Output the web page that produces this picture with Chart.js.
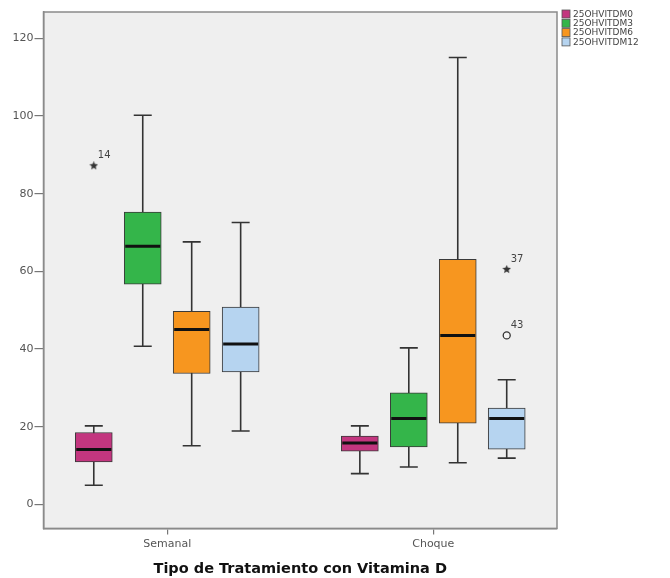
<!DOCTYPE html>
<html>
<head>
<meta charset="utf-8">
<script src="https://cdn.jsdelivr.net/npm/chart.js@4.4.1/dist/chart.umd.min.js"></script>
<style>
    body { margin: 0; background: #ffffff; }
    #wrap { width: 670px; height: 578px; }
</style>
</head>
<body>
<div id="wrap"><canvas id="boxChart" width="670" height="578"></canvas></div>
<script>
// ===== DATA =====
const groups = ['Semanal', 'Choque'];
const seriesNames = ['25OHVITDM0', '25OHVITDM3', '25OHVITDM6', '25OHVITDM12'];
const seriesColors = ['#c3367f', '#34b54a', '#f7961f', '#b6d4f0'];

// one row per series, one value per group (Semanal, Choque)
const whiskerLow  = [[4.9, 7.9],   [40.7, 9.6],  [15.1, 10.7],  [18.9, 11.9]];
const q1          = [[10.9, 13.7], [56.7, 14.8], [33.7, 20.9],  [34.1, 14.2]];
const median      = [[14.1, 15.8], [66.5, 22.1], [45.0, 43.5],  [41.3, 22.1]];
const q3          = [[18.5, 17.6], [75.3, 28.7], [49.7, 63.1],  [50.8, 24.8]];
const whiskerHigh = [[20.2, 20.2], [100.2, 40.3], [67.6, 115.1], [72.6, 32.1]];

// outliers
const outlierGroup  = [0, 1, 1];
const outlierSeries = [0, 3, 3];
const outlierValue  = [87.2, 60.5, 43.5];
const outlierCase   = ['14', '37', '43'];
const outlierExtreme = [true, true, false];   // star = extreme, circle = outlier

const yTicks = [0, 20, 40, 60, 80, 100, 120];

// ===== LAYOUT CONSTANTS =====
const seriesOffset = [-0.276, -0.092, 0.092, 0.276];
const BOX_WIDTH = 37;
const CAP_WIDTH = 18;

function xPos(groupIdx, seriesIdx) {
    return groupIdx + 1 + seriesOffset[seriesIdx];
}

// small filled star used for extreme values
function makeStar(size) {
    const c = document.createElement('canvas');
    c.width = size; c.height = size;
    const g = c.getContext('2d');
    const cx = size / 2, cy = size / 2, ro = size / 2, ri = ro * 0.45;
    g.beginPath();
    for (let i = 0; i < 10; i++) {
        const r = i % 2 === 0 ? ro : ri;
        const a = -Math.PI / 2 + i * Math.PI / 5;
        g.lineTo(cx + r * Math.cos(a), cy + r * Math.sin(a));
    }
    g.closePath();
    g.fillStyle = '#333333';
    g.fill();
    return c;
}
const starImg = makeStar(9);

// ===== DATASETS =====
const boxDatasets = seriesNames.map((name, si) => ({
    type: 'bar',
    label: name,
    data: groups.map((g, gi) => ({ x: xPos(gi, si), y: [q1[si][gi], q3[si][gi]] })),
    backgroundColor: seriesColors[si],
    borderColor: '#3a3a3a',
    borderWidth: 1,
    borderSkipped: false,
    barThickness: BOX_WIDTH,
    grouped: false,
    order: 2
}));

const outlierDataset = {
    type: 'scatter',
    label: 'outliers',
    data: outlierValue.map((v, i) => ({ x: xPos(outlierGroup[i], outlierSeries[i]), y: v })),
    pointStyle: outlierExtreme.map(e => e ? starImg : 'circle'),
    pointRadius: 3.5,
    pointBorderWidth: 1.3,
    pointBorderColor: '#333333',
    pointBackgroundColor: '#f4f4f4',
    order: 1
};

// ===== PLUGINS =====
const plotFrame = {
    id: 'plotFrame',
    beforeDraw(chart) {
        const { ctx, chartArea: a } = chart;
        ctx.save();
        ctx.fillStyle = '#efefef';
        ctx.fillRect(a.left, a.top, a.right - a.left, a.bottom - a.top);
        ctx.restore();
    },
    afterDraw(chart) {
        const { ctx, chartArea: a } = chart;
        ctx.save();
        ctx.strokeStyle = '#8a8a8a';
        ctx.lineWidth = 1.5;
        ctx.strokeRect(a.left, a.top, a.right - a.left, a.bottom - a.top);
        ctx.restore();
    }
};

const whiskers = {
    id: 'whiskers',
    beforeDatasetsDraw(chart) {
        const { ctx, scales: { x, y } } = chart;
        ctx.save();
        ctx.strokeStyle = '#333333';
        ctx.lineWidth = 1.6;
        seriesNames.forEach((name, si) => {
            groups.forEach((g, gi) => {
                const px = x.getPixelForValue(xPos(gi, si));
                const lo = y.getPixelForValue(whiskerLow[si][gi]);
                const hi = y.getPixelForValue(whiskerHigh[si][gi]);
                ctx.beginPath();
                ctx.moveTo(px, lo);
                ctx.lineTo(px, hi);
                ctx.moveTo(px - CAP_WIDTH / 2, lo);
                ctx.lineTo(px + CAP_WIDTH / 2, lo);
                ctx.moveTo(px - CAP_WIDTH / 2, hi);
                ctx.lineTo(px + CAP_WIDTH / 2, hi);
                ctx.stroke();
            });
        });
        ctx.restore();
    },
    afterDatasetsDraw(chart) {
        const { ctx, scales: { x, y } } = chart;
        ctx.save();
        // median lines
        ctx.strokeStyle = '#111111';
        ctx.lineWidth = 3;
        seriesNames.forEach((name, si) => {
            groups.forEach((g, gi) => {
                const px = x.getPixelForValue(xPos(gi, si));
                const py = y.getPixelForValue(median[si][gi]);
                ctx.beginPath();
                ctx.moveTo(px - BOX_WIDTH / 2 + 1, py);
                ctx.lineTo(px + BOX_WIDTH / 2 - 1, py);
                ctx.stroke();
            });
        });
        // outlier case labels
        ctx.fillStyle = '#444444';
        ctx.font = '10px "DejaVu Sans"';
        ctx.textAlign = 'left';
        ctx.textBaseline = 'middle';
        outlierValue.forEach((v, i) => {
            const px = x.getPixelForValue(xPos(outlierGroup[i], outlierSeries[i]));
            const py = y.getPixelForValue(v);
            ctx.fillText(outlierCase[i], px + 4, py - 10);
        });
        ctx.restore();
    }
};

const sideLegend = {
    id: 'sideLegend',
    afterDraw(chart) {
        const { ctx } = chart;
        const left = chart.chartArea.right + 5;
        ctx.save();
        ctx.font = '9px "DejaVu Sans"';
        ctx.textAlign = 'left';
        ctx.textBaseline = 'middle';
        seriesNames.forEach((name, i) => {
            const top = 10 + i * 9.3;
            ctx.fillStyle = seriesColors[i];
            ctx.fillRect(left, top, 8, 8);
            ctx.strokeStyle = '#555555';
            ctx.lineWidth = 0.8;
            ctx.strokeRect(left, top, 8, 8);
            ctx.fillStyle = '#444444';
            ctx.fillText(name, left + 11, top + 4.5);
        });
        ctx.restore();
    }
};

// ===== CHART =====
const chart = new Chart(document.getElementById('boxChart'), {
    type: 'bar',
    data: { datasets: [...boxDatasets, outlierDataset] },
    options: {
        responsive: false,
        animation: false,
        devicePixelRatio: 1,
        layout: { padding: { left: 11.5, top: 12, right: 113, bottom: 0 } },
        plugins: {
            legend: { display: false },
            tooltip: { enabled: false }
        },
        scales: {
            x: {
                type: 'linear',
                offset: false,
                min: 0.535,
                max: 2.465,
                afterBuildTicks: scale => { scale.ticks = groups.map((g, i) => ({ value: i + 1 })); },
                ticks: {
                    callback: v => groups[v - 1],
                    color: '#555555',
                    font: { family: 'DejaVu Sans', size: 11 },
                    padding: 3,
                    maxRotation: 0
                },
                grid: { offset: false, drawOnChartArea: false, tickLength: 6, color: '#777777', lineWidth: 1.2 },
                border: { color: '#8a8a8a', width: 1.5 },
                title: {
                    display: true,
                    text: 'Tipo de Tratamiento con Vitamina D',
                    color: '#111111',
                    font: { family: 'DejaVu Sans', size: 14.5, weight: 'bold' },
                    padding: { top: 7, bottom: 0 }
                }
            },
            y: {
                min: -6.2,
                max: 126.8,
                afterBuildTicks: scale => { scale.ticks = yTicks.map(v => ({ value: v })); },
                ticks: {
                    color: '#555555',
                    font: { family: 'DejaVu Sans', size: 11 },
                    padding: 1
                },
                grid: { drawOnChartArea: false, tickLength: 9, color: '#777777', lineWidth: 1.2 },
                border: { color: '#8a8a8a', width: 1.5 }
            }
        }
    },
    plugins: [plotFrame, whiskers, sideLegend]
});
</script>
</body>
</html>
